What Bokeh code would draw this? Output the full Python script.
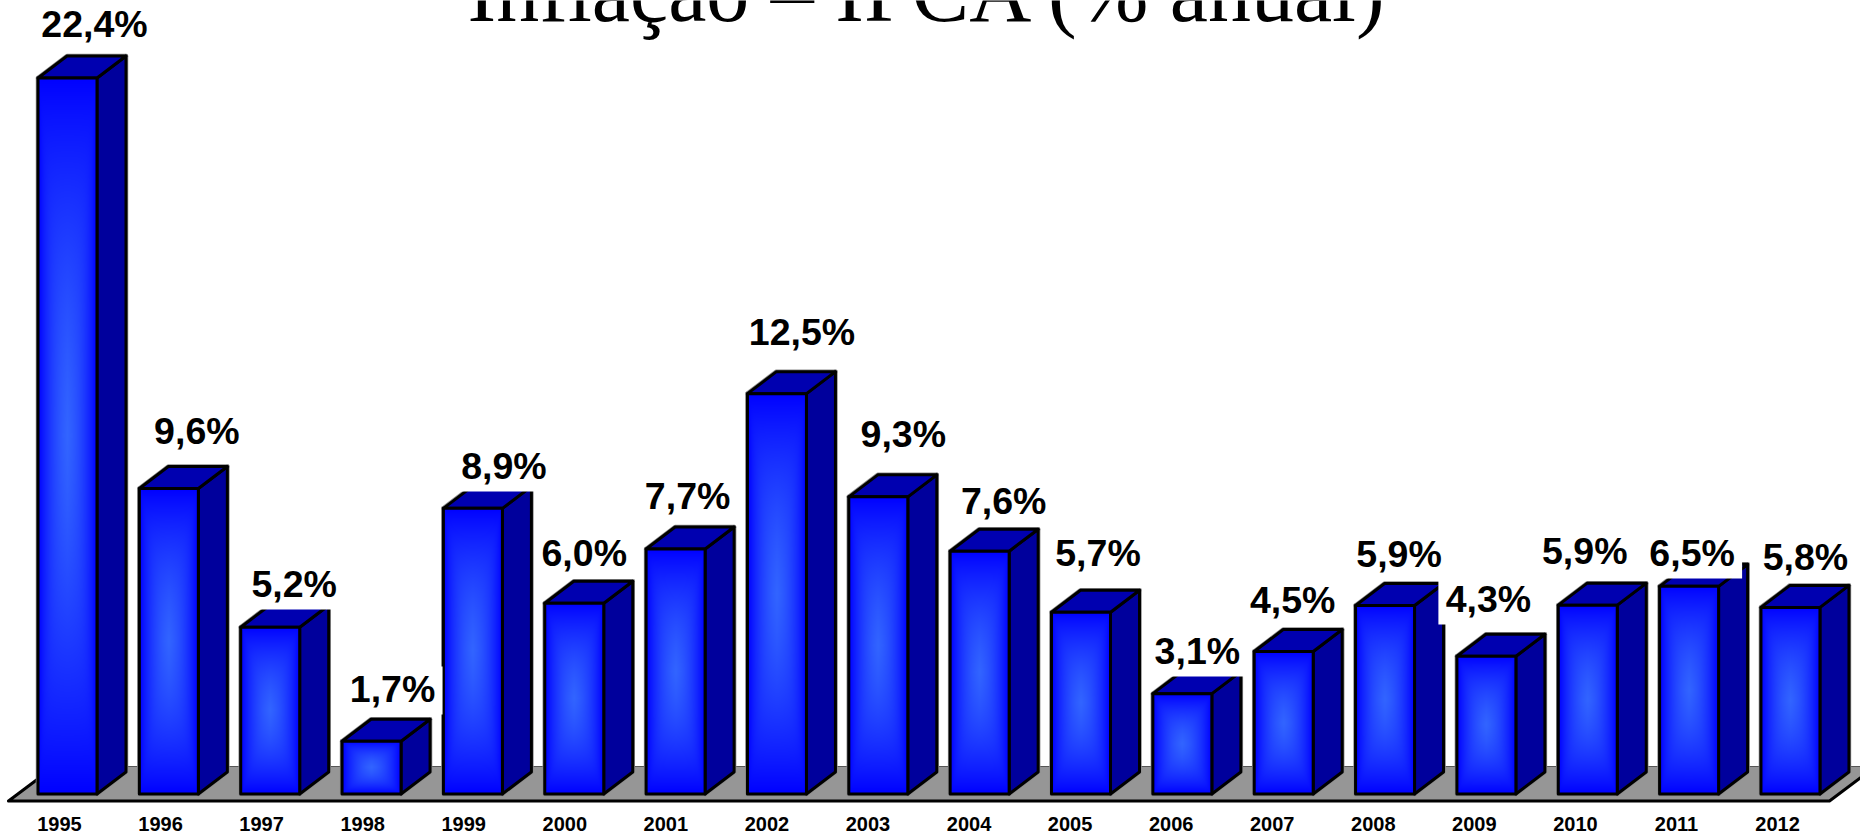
import numpy as np
from bokeh.plotting import figure
from bokeh.models import Range1d, LinearAxis, FixedTicker, BasicTickFormatter, Label
from bokeh.core.properties import value
from bokeh.embed import file_html
from bokeh.resources import INLINE

years = list(range(1995, 2013))
inflation = [22.41, 9.56, 5.22, 1.65, 8.94, 5.97, 7.67, 12.53, 9.30, 7.60, 5.69, 3.14, 4.46, 5.90, 4.31, 5.91, 6.50, 5.84]
labels = ["22,4%", "9,6%", "5,2%", "1,7%", "8,9%", "6,0%", "7,7%", "12,5%", "9,3%", "7,6%", "5,7%", "3,1%", "4,5%", "5,9%", "4,3%", "5,9%", "6,5%", "5,8%"]
# label placement relative to each bar's year slot and to the value scale
label_dx_px = [27, 28, 24, 21, 31, 10, 12, 25, 25, 24, 17, 15, 9, 14, 2, -3, 3, 15]
label_y_px = [25, 432, 585, 690, 467, 554, 497, 333, 435, 502, 554, 652, 601, 555, 600, 552, 554, 558]

W, H = 1860, 839
STEP = 101.35          # px between years
UNIT = 31.95           # px per percentage point
X0 = 67                # canvas x of the first bar's centre
Y0 = 793.5             # canvas y of value 0
xs = lambda px: px / STEP
ys = lambda px: px / UNIT

p = figure(width=W, height=H, output_backend="svg", toolbar_location=None,
           x_axis_location=None, y_axis_location=None, min_border=0,
           x_range=Range1d(1995 - X0 / STEP, 1995 + (W - X0) / STEP),
           y_range=Range1d(-(H - Y0) / UNIT, Y0 / UNIT),
           background_fill_color="white", border_fill_color="white")
p.outline_line_color = None
p.grid.visible = False

BW = xs(59)
DX, DY = xs(29), ys(22)
FLOOR_X = 1995 + xs(8 - 67)
FLOOR_X2 = 1995 + xs(1829 - 67)
FRONT, BACK = ys(-7), ys(27.5)
SLANT = xs(46)

# floor
p.patch([FLOOR_X, FLOOR_X + SLANT, FLOOR_X2 + SLANT, FLOOR_X2],
        [FRONT, BACK, BACK, FRONT], fill_color="#969696", line_color="#555555", line_width=1)
p.line([FLOOR_X + SLANT, FLOOR_X, FLOOR_X2, FLOOR_X2 + SLANT],
       [BACK, FRONT, FRONT, BACK], line_color="black", line_width=3, line_join="round")

# side and top faces
lefts = [y - BW / 2 for y in years]
rights = [y + BW / 2 for y in years]
side_x = [[r, r + DX, r + DX, r] for r in rights]
side_y = [[0, DY, v + DY, v] for v in inflation]
top_x = [[l, l + DX, r + DX, r] for l, r in zip(lefts, rights)]
top_y = [[v, v + DY, v + DY, v] for v in inflation]
for xx, yy in ((side_x, side_y), (top_x, top_y)):
    p.patches(xx, yy, fill_color=None, line_color="#8c8c8c", line_width=4.5, line_join="round")
p.quad(left=lefts, right=rights, top=inflation, bottom=[0] * len(years),
       fill_color=None, line_color="#8c8c8c", line_width=4.5, line_join="round")
p.patches(side_x, side_y, fill_color="#00009c", line_color="black", line_width=3, line_join="round")
p.patches(top_x, top_y, fill_color="#0000b0", line_color="black", line_width=3, line_join="round")

# front faces: soft rectangular gradient, rendered as one small image per bar
def face(val):
    rows = max(int(round(val * UNIT)), 2)
    u = np.abs(np.linspace(-1, 1, 60))[None, :]
    v = np.abs(np.linspace(-1, 1, rows))[:, None]
    ex = np.clip(1 - u, 1e-3, 1)
    ey = np.clip(1 - v, 1e-3, 1)
    k = 3.0
    t = (ex ** -k + ey ** -k) ** (-1 / k) * 2 ** (1 / k)
    t = np.clip(t, 0, 1) ** 0.85
    img = np.zeros((rows, 60), dtype=np.uint32)
    rgba = img.view(np.uint8).reshape((rows, 60, 4))
    rgba[..., 0] = (0x33 * t).astype(np.uint8)
    rgba[..., 1] = (0x66 * t).astype(np.uint8)
    rgba[..., 2] = 255
    rgba[..., 3] = 255
    return img

p.image_rgba(image=[face(v) for v in inflation], x=lefts, y=[0] * len(years),
             dw=[BW] * len(years), dh=inflation)
p.quad(left=lefts, right=rights, top=inflation, bottom=[0] * len(years),
       fill_color=None, line_color="black", line_width=3, line_join="round")

# data labels on white boxes
lx = [y + xs(d) for y, d in zip(years, label_dx_px)]
ly = [(Y0 - py) / UNIT for py in label_y_px]
bw = [120 if len(t) == 5 else 100 for t in labels]
p.rect(lx, ly, width=bw, height=48, width_units="screen", height_units="screen",
       fill_color="white", line_color=None)
p.text(lx, ly, text=labels, text_align="center", text_baseline="middle", y_offset=-1.5,
       text_font=value("Liberation Sans"), text_font_style="bold",
       text_font_size="37.5px", text_color="black")

# title, clipped by the top of the page as in the source
p.add_layout(Label(x=928, y=H + 9, x_units="screen", y_units="screen",
                   text="Inflação – IPCA (% anual)", text_align="center", text_baseline="alphabetic",
                   text_font="Liberation Serif", text_font_size="86px", text_color="black"))

# year axis
p.extra_x_ranges["years"] = Range1d(1995 - 59 / 101.06, 1995 + (W - 59) / 101.06)
axis = LinearAxis(x_range_name="years", ticker=FixedTicker(ticks=years),
                  formatter=BasicTickFormatter(use_scientific=False, precision=0),
                  major_tick_line_color=None, minor_tick_line_color=None, axis_line_color=None,
                  major_label_text_font="Liberation Sans", major_label_text_font_style="bold",
                  major_label_text_font_size="20px", major_label_text_color="black",
                  major_label_standoff=2, fixed_location=ys(-14.5))
p.add_layout(axis, "below")

open("out.html", "w").write(file_html(p, INLINE))
